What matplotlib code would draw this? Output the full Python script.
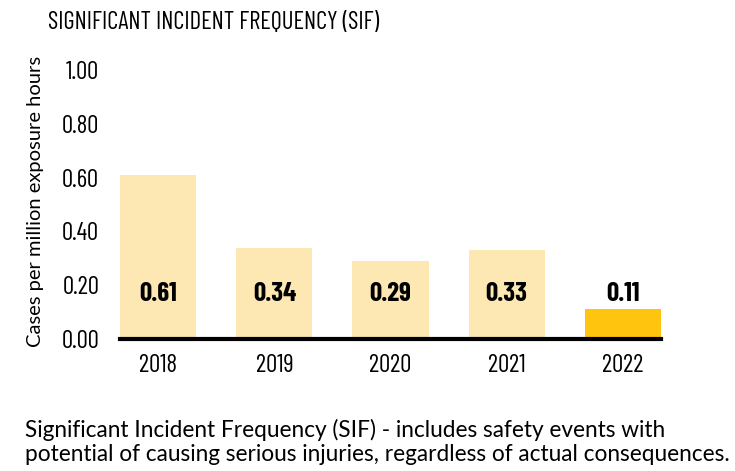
import matplotlib
matplotlib.use("Agg")
import matplotlib.pyplot as plt

years = ["2018", "2019", "2020", "2021", "2022"]
values = [0.61, 0.34, 0.29, 0.33, 0.11]
value_labels = ["0.61", "0.34", "0.29", "0.33", "0.11"]
y_ticks = [0.0, 0.2, 0.4, 0.6, 0.8, 1.0]
y_tick_labels = ["0.00", "0.20", "0.40", "0.60", "0.80", "1.00"]
title = "SIGNIFICANT INCIDENT FREQUENCY (SIF)"
ylabel = "Cases per million exposure hours"
footnote = ("Significant Incident Frequency (SIF) - includes safety events with\n"
            "potential of causing serious injuries, regardless of actual consequences.")

light = "#FDE7B2"
strong = "#FEC40E"
colors = [light, light, light, light, strong]

COND = ["Barlow Condensed", "DejaVu Sans"]
W, H = 735, 471
fig = plt.figure(figsize=(W / 100, H / 100), dpi=100)
# axes in pixel coords: left 120, right 661, y=0 at 339, y=1 at 70
left, right = 120, 661
y0, y1 = 339, 70
ax = fig.add_axes([left / W, 1 - y0 / H, (right - left) / W, (y0 - y1) / H])
x = list(range(len(years)))
ax.bar(x, values, width=0.655, color=colors, zorder=1)
ax.set_xlim(-0.33, 4.33)
ax.set_ylim(0, 1.0)

for s in ["top", "right", "left"]:
    ax.spines[s].set_visible(False)
ax.spines["bottom"].set_linewidth(3)
ax.spines["bottom"].set_color("black")
ax.spines["bottom"].set_zorder(3)

ax.set_yticks(y_ticks)
ax.set_yticklabels(y_tick_labels, fontfamily=COND, fontsize=18)
ax.set_xticks(x)
ax.set_xticklabels(years, fontfamily=COND, fontsize=18)
ax.tick_params(axis="both", length=0)
ax.tick_params(axis="y", pad=15)
ax.tick_params(axis="x", pad=11)

for xi, lab in zip(x, value_labels):
    ax.text(xi, 0.168, lab, ha="center", va="center", fontfamily=COND,
            fontweight="bold", fontsize=19.5, color="black")

fig.text(48 / W, 1 - 22 / H, title, ha="left", va="center", fontfamily=COND,
         fontsize=17.8, color="black")
fig.text(36 / W, 1 - 201 / H, ylabel, rotation=90, ha="center", va="center",
         fontfamily=["Lato", "DejaVu Sans"], fontsize=14.5, color="black")
fig.text(25 / W, 1 - 442 / H, footnote, ha="left", va="center",
         fontfamily=["Lato", "DejaVu Sans"], fontsize=16.3, color="black",
         linespacing=1.2)

fig.savefig("out.png", dpi=100)
